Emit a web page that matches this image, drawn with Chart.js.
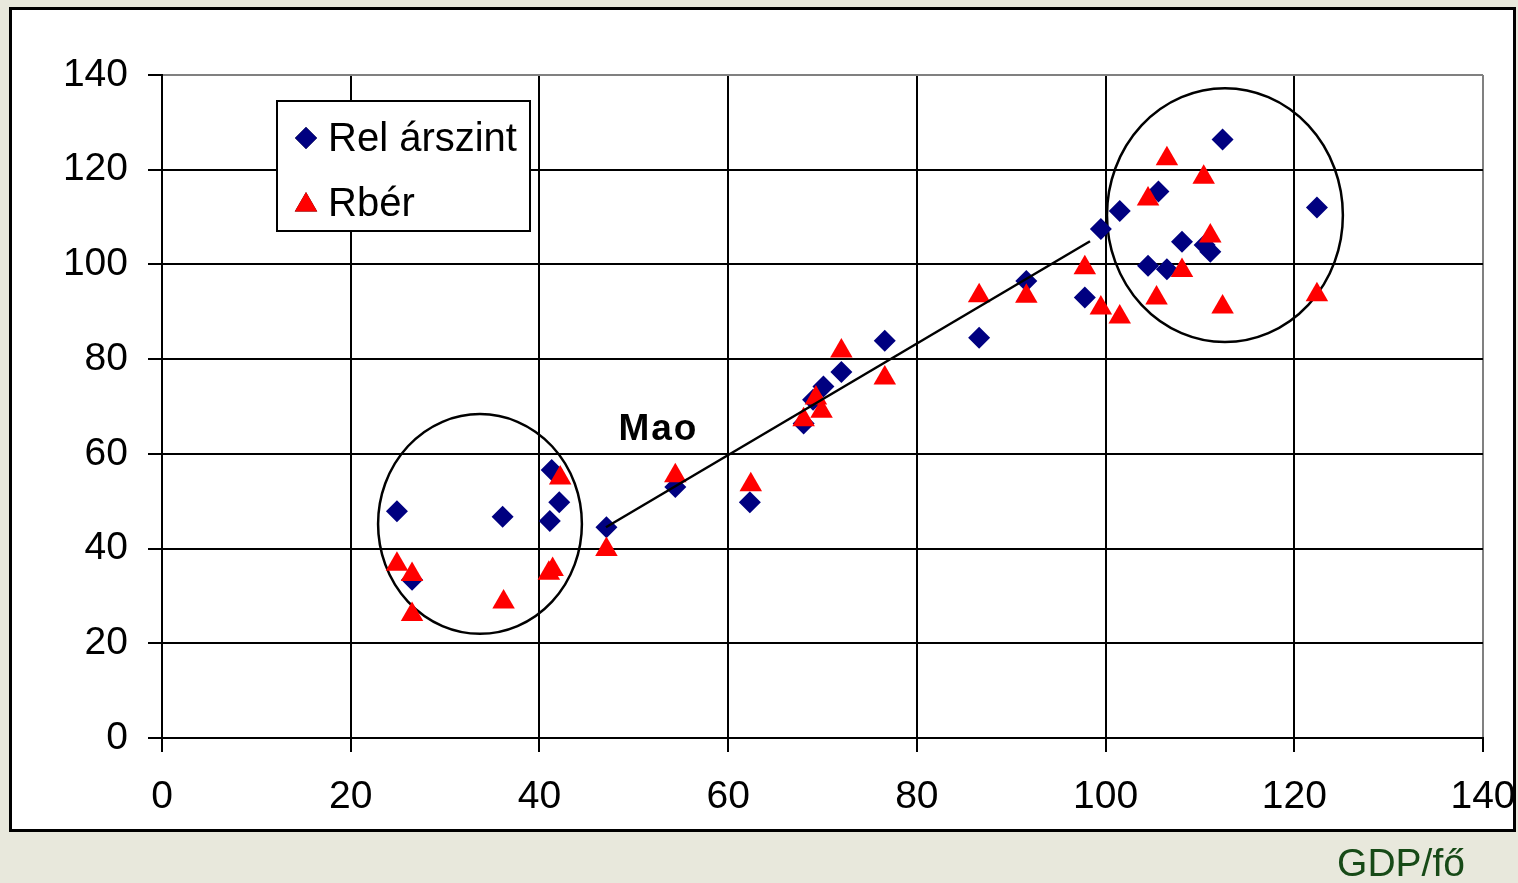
<!DOCTYPE html>
<html>
<head>
<meta charset="utf-8">
<script src="https://cdn.jsdelivr.net/npm/chart.js@4/dist/chart.umd.min.js"></script>
<style>
    html, body { margin: 0; padding: 0; background: #E8E8DC; }
    #wrap { width: 1518px; height: 883px; }
</style>
</head>
<body>
<div id="wrap"><canvas id="scatterChart"></canvas></div>
<script>
// =========================
// Data (GDP/fő vs relatív árszint / reálbér)
// =========================
const relX = [24.9, 26.5, 36.1, 41.1, 41.3, 42.1, 47.1, 54.4, 62.3, 68.0, 69.0, 70.1, 72.0, 76.6,
    86.6, 91.6, 97.8, 99.5, 101.5, 104.5, 105.6, 106.5, 108.1, 110.5, 111.1, 112.4, 122.4];
const relY = [47.9, 33.4, 46.7, 45.8, 56.6, 49.8, 44.5, 53.0, 49.8, 66.4, 71.4, 74.2, 77.3, 83.9,
    84.5, 96.5, 93.0, 107.5, 111.3, 99.7, 115.4, 99.0, 104.8, 104.1, 102.7, 126.4, 112.0];

const berX = [24.9, 26.5, 26.5, 36.2, 41.0, 41.4, 42.2, 47.1, 54.4, 62.4, 68.0, 69.3, 69.9, 72.0,
    76.6, 86.6, 91.6, 97.8, 99.5, 101.5, 104.5, 105.4, 106.5, 108.1, 110.4, 111.1, 112.4, 122.4];
const berY = [36.7, 34.5, 26.1, 28.7, 34.8, 35.6, 54.9, 39.8, 55.4, 53.5, 67.2, 71.8, 69.0, 81.7,
    76.0, 93.4, 93.3, 99.3, 90.8, 88.9, 113.8, 92.9, 122.3, 98.7, 118.4, 106.0, 91.0, 93.6];

const trendX = [47.05, 98.35];
const trendY = [44.5, 104.9];

const axisTicks = [0, 20, 40, 60, 80, 100, 120, 140];

const seriesNames = ['Rel árszint', 'Rbér'];

function toPoints(xs, ys) {
    return xs.map((x, i) => ({ x: x, y: ys[i] }));
}

// kör / ellipszis jelölések (adat egységekben)
const rings = [
    { cx: 33.7, cy: 45.2, rx: 10.8, ry: 23.2 },
    { cx: 112.65, cy: 110.4, rx: 12.5, ry: 26.8 }
];

const FONT = '"Liberation Sans", Arial, sans-serif';

// háttér + keret
const framePlugin = {
    id: 'frame',
    beforeDraw(chart) {
        const c = chart.ctx;
        c.save();
        c.fillStyle = '#E8E8DC';
        c.fillRect(0, 0, chart.width, chart.height);
        c.fillStyle = '#FFFFFF';
        c.fillRect(10, 8, 1505, 823);
        c.restore();
    },
    beforeDatasetsDraw(chart) {
        const c = chart.ctx;
        const xs = chart.scales.x, ys = chart.scales.y;
        c.save();
        c.strokeStyle = '#000';
        c.lineWidth = 2.5;
        rings.forEach(r => {
            const cx = xs.getPixelForValue(r.cx);
            const cy = ys.getPixelForValue(r.cy);
            const rx = Math.abs(xs.getPixelForValue(r.cx + r.rx) - cx);
            const ry = Math.abs(ys.getPixelForValue(r.cy + r.ry) - cy);
            c.beginPath();
            c.ellipse(cx, cy, rx, ry, 0, 0, Math.PI * 2);
            c.stroke();
        });
        c.restore();
    },
    afterDraw(chart) {
        const c = chart.ctx;
        const xs = chart.scales.x, ys = chart.scales.y;
        c.save();

        // külső keret (a 140-es címke fölé)
        c.strokeStyle = '#000';
        c.lineWidth = 3;
        c.strokeRect(10.5, 8.5, 1504, 822);

        // "Mao" felirat
        c.fillStyle = '#000';
        c.font = 'bold 37px ' + FONT;
        c.letterSpacing = '2px';
        c.textAlign = 'center';
        c.textBaseline = 'alphabetic';
        c.fillText('Mao', xs.getPixelForValue(52.4) + 2, ys.getPixelForValue(63.0));
        c.letterSpacing = '0px';

        // jelmagyarázat
        c.fillStyle = '#FFF';
        c.fillRect(277, 101, 253, 130);
        c.strokeStyle = '#000';
        c.lineWidth = 2;
        c.strokeRect(277, 101, 253, 130);

        const ds = chart.data.datasets;
        c.font = '40px ' + FONT;
        c.textAlign = 'left';
        c.fillStyle = '#000';
        [[1, 138], [2, 203]].forEach((e, i) => {
            const d = ds[e[0]];
            Chart.helpers.drawPoint(c, {
                pointStyle: d.pointStyle,
                radius: d.pointRadius,
                borderWidth: 0
            }, 306, e[1] + (i === 1 ? 2 : 0));
            c.fillStyle = d.backgroundColor;
            c.fill();
            c.fillStyle = '#000';
            c.fillText(seriesNames[i], 328, e[1] + 13);
        });

        // tengelycím
        c.fillStyle = '#174A17';
        c.font = '39px ' + FONT;
        c.textAlign = 'center';
        c.fillText('GDP/fő', 1401, 876);
        c.restore();
    }
};

const ctx = document.getElementById('scatterChart').getContext('2d');

const gridColor = (context) => (context.tick && context.tick.value === 140) ? '#808080' : '#000000';

new Chart(ctx, {
    type: 'scatter',
    data: {
        datasets: [
            {
                label: 'trend',
                type: 'line',
                data: toPoints(trendX, trendY),
                borderColor: '#000',
                borderWidth: 2.5,
                pointRadius: 0,
                fill: false,
                tension: 0
            },
            {
                label: seriesNames[0],
                data: toPoints(relX, relY),
                pointStyle: 'rectRot',
                pointRadius: 11,
                backgroundColor: '#000080',
                borderWidth: 0,
                order: 2
            },
            {
                label: seriesNames[1],
                data: toPoints(berX, berY),
                pointStyle: 'triangle',
                pointRadius: 13,
                backgroundColor: '#FF0000',
                borderWidth: 0,
                order: 1
            }
        ]
    },
    plugins: [framePlugin],
    options: {
        responsive: true,
        maintainAspectRatio: false,
        animation: false,
        layout: {
            padding: { left: 10, top: 75, right: 35, bottom: 45 }
        },
        plugins: {
            legend: { display: false },
            tooltip: { enabled: false }
        },
        scales: {
            x: {
                type: 'linear',
                min: 0,
                max: 140,
                afterBuildTicks: (s) => { s.ticks = axisTicks.map(v => ({ value: v })); },
                afterFit: (s) => { s.height = 100; s.paddingRight = 0; s.paddingLeft = 0; },
                ticks: {
                    color: '#000',
                    padding: 22,
                    maxRotation: 0,
                    font: { family: FONT, size: 39 }
                },
                grid: {
                    color: gridColor,
                    lineWidth: 2,
                    tickLength: 14,
                    tickColor: '#000',
                    tickWidth: 2
                },
                border: { color: '#000', width: 2 }
            },
            y: {
                type: 'linear',
                min: 0,
                max: 140,
                afterBuildTicks: (s) => { s.ticks = axisTicks.map(v => ({ value: v })); },
                afterFit: (s) => { s.width = 152; s.paddingTop = 0; s.paddingBottom = 0; },
                ticks: {
                    color: '#000',
                    padding: 20,
                    font: { family: FONT, size: 39 }
                },
                grid: {
                    color: gridColor,
                    lineWidth: 2,
                    tickLength: 14,
                    tickColor: '#000',
                    tickWidth: 2
                },
                border: { color: '#000', width: 2 }
            }
        }
    }
});
</script>
</body>
</html>
